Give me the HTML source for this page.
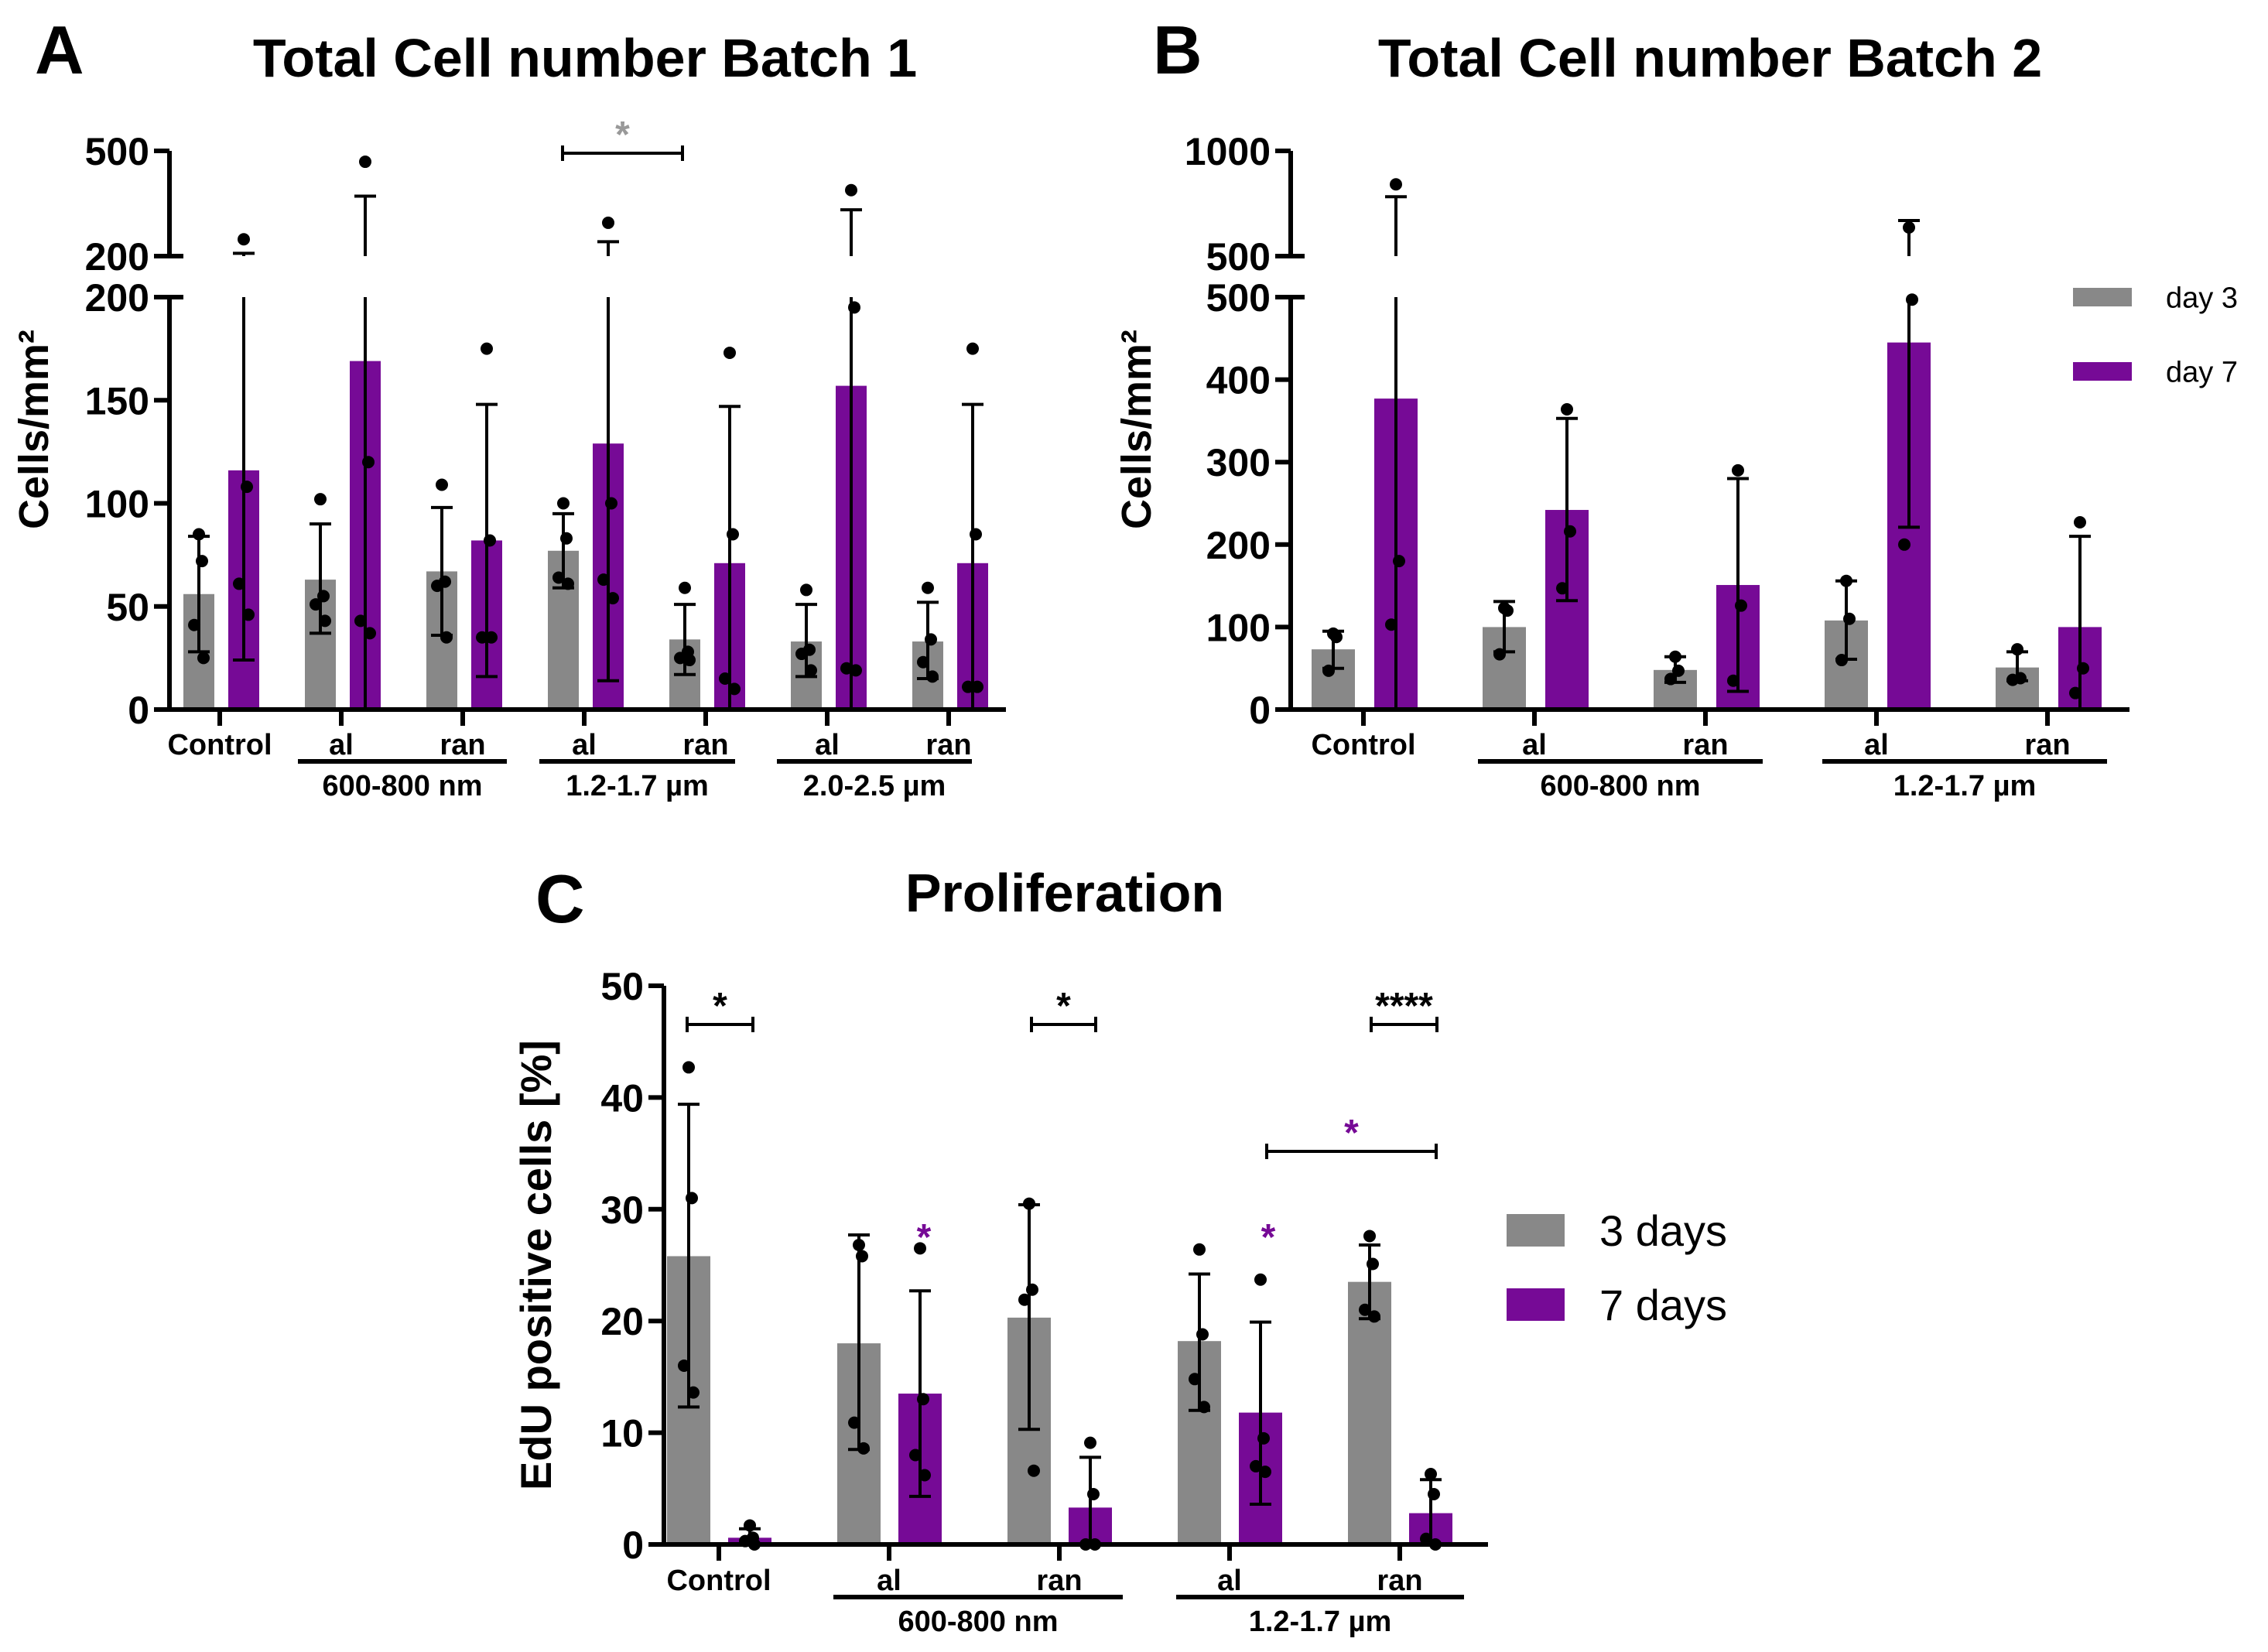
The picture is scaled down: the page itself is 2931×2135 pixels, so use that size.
<!DOCTYPE html>
<html><head><meta charset="utf-8">
<style>
html,body{margin:0;padding:0;background:#fff;}
svg{display:block;font-family:"Liberation Sans",sans-serif;}
</style></head>
<body>
<svg id="fig" width="2931" height="2135" viewBox="0 0 2931 2135" xmlns="http://www.w3.org/2000/svg">
<rect width="2931" height="2135" fill="#fff"/>
<g id="root"></g>
</svg>
<script>
// ---------- Panel A data ----------
const aCats = ["Control","al","ran","al","ran","al","ran"];
const aGrayMean = [56,63,67,77,34,33,33];
const aGrayLo = [28,37,36,59,17,16,15];
const aGrayHi = [84,90,98,95,51,51,52];
const aPurpMean = [116,169,82,129,71,157,71];
const aPurpLo = [24,0,16,14,0,0,0];
const aPurpHi = [208,371,148,241,147,332,148];
const aGrayPts = [[85,72,41,25],[102,55,51,43],[109,62,60,35],[100,83,64,61],[59,28,25,24],[58,29,27,19],[59,34,23,16]];
const aPurpPts = [[248,108,61,46],[469,120,43,37],[175,82,35,35],[295,100,63,54],[173,85,15,10],[388,195,20,19],[175,85,11,11]];
const aLowTicks = [0,50,100,150,200];
const aUpTicks = [200,500];
// ---------- Panel B data ----------
const bCats = ["Control","al","ran","al","ran"];
const bGrayMean = [73,100,48,108,51];
const bGrayLo = [50,70,33,61,35];
const bGrayHi = [95,131,64,156,70];
const bPurpMean = [377,242,151,445,100];
const bPurpLo = [0,132,22,221,0];
const bPurpHi = [782,353,280,669,210];
const bGrayPts = [[92,88,47],[123,120,67],[64,47,37],[156,110,60],[73,38,36]];
const bPurpPts = [[841,180,103],[364,216,147],[290,126,35],[636,497,200],[227,50,20]];
const bLowTicks = [0,100,200,300,400,500];
const bUpTicks = [500,1000];
// ---------- Panel C data ----------
const cCats = ["Control","al","ran","al","ran"];
const cGrayMean = [25.8,18,20.3,18.2,23.5];
const cGrayLo = [12.3,8.5,10.3,12,20.2];
const cGrayHi = [39.4,27.7,30.4,24.2,26.8];
const cPurpMean = [0.6,13.5,3.3,11.8,2.8];
const cPurpLo = [0,4.3,0,3.6,0];
const cPurpHi = [1.4,22.7,7.8,19.9,5.8];
const cGrayPts = [[42.7,31,16,13.6],[26.8,25.8,10.9,8.6],[30.5,22.8,21.9,6.6],[26.4,18.8,14.8,12.3],[27.6,25.1,21,20.4]];
const cPurpPts = [[1.7,0.6,0.3,0],[26.5,13,8,6.2],[9.1,4.5,0,0],[23.7,9.5,7,6.5],[6.3,4.5,0.5,0]];
const cTicks = [0,10,20,30,40,50];

const GRAY="#888888", PURP="#760a96";
const NS="http://www.w3.org/2000/svg";
const root=document.getElementById('root');
function el(tag,attrs,parent,text){
  const e=document.createElementNS(NS,tag);
  for(const k in attrs) e.setAttribute(k,attrs[k]);
  if(text!==undefined) e.textContent=text;
  (parent||root).appendChild(e);
  return e;
}
function line(x1,y1,x2,y2,w,parent,col){
  return el('line',{x1,y1,x2,y2,stroke:col||'#000','stroke-width':w},parent);
}
const TFS=50;
function drawPanel(p){
  const g=el('g',{});
  
  
  const y=v=>{
    if(p.brk===undefined || v<=p.brk) return p.y0-(v/p.lowMax)*(p.y0-p.yLowTop);
    return p.yUpBot-(v-p.upMin)/(p.upMax-p.upMin)*(p.yUpBot-p.yUpTop);
  };
  const xc=i=>p.x0c+i*p.step;
  p.cats.forEach((c,i)=>{
    [[p.gm,p.glo,p.ghi,p.gpts,GRAY,p.offG,'day3'],[p.pm,p.plo,p.phi,p.ppts,PURP,p.offP,'day7']].forEach(s=>{
      const [m,lo,hi,pts,col,off,tag]=s;
      const cx=xc(i)+off;
      const r=el('rect',{x:cx-p.bw/2,y:y(m[i]),width:p.bw,height:p.y0-y(m[i]),fill:col},g);
      
      
      const lov=Math.max(0,lo[i]);
      const hv=hi[i];
      if(p.brk!==undefined && hv>p.brk){
        line(cx,y(lov),cx,p.yLowTop,4,g);
        line(cx,p.yUpBot,cx,y(hv),4,g);
      } else line(cx,y(lov),cx,y(hv),4,g);
      line(cx-14,y(hv),cx+14,y(hv),4,g);
      if(lo[i]>0) line(cx-14,y(lov),cx+14,y(lov),4,g);
      pts[i].forEach((v,j)=>{
        const dx=(j%2===0?-1:1)*(j<2?0:6);
        const d=el('circle',{cx:cx+dx+(j===1?4:0),cy:y(v),r:8,fill:'#000'},g);
        
        
      });
    });
  });
  const ax=el('g',{},g);
  
  
  if(p.brk!==undefined){
    line(p.ax,p.y0+3,p.ax,p.yLowTop,6,ax);
    line(p.ax,p.yUpBot,p.ax,p.yUpTop,6,ax);
    p.lowTicks.forEach(t=>{
      line(p.ax-20,y(t),p.ax+(t===p.lowMax?18:0),y(t),6,ax);
      el('text',{x:p.ax-26,y:y(t)+18,'text-anchor':'end','font-size':TFS,'font-weight':'bold'},ax,String(t));
    });
    p.upTicks.forEach((t,k)=>{
      const yy=k===0?p.yUpBot:p.yUpTop;
      line(p.ax-20,yy,p.ax+(k===0?18:0),yy,6,ax);
      el('text',{x:p.ax-26,y:yy+18,'text-anchor':'end','font-size':TFS,'font-weight':'bold'},ax,String(t));
    });
  } else {
    line(p.ax,p.y0+3,p.ax,p.yTop,6,ax);
    p.lowTicks.forEach(t=>{
      line(p.ax-20,y(t),p.ax,y(t),6,ax);
      el('text',{x:p.ax-26,y:y(t)+18,'text-anchor':'end','font-size':TFS,'font-weight':'bold'},ax,String(t));
    });
  }
  const xa=el('g',{},g);
  
  
  line(p.ax-3,p.y0,p.xEnd,p.y0,6,xa);
  p.cats.forEach((c,i)=>{
    line(xc(i),p.y0,xc(i),p.y0+21,6,xa);
    const t=el('text',{x:xc(i),y:p.labY,'text-anchor':'middle','font-size':38,'font-weight':'bold'},xa,c);
    
    
  });
  p.groups.forEach(gr=>{
    line(gr[0],p.labY+9,gr[1],p.labY+9,6,xa);
    const t=el('text',{x:(gr[0]+gr[1])/2,y:p.labY+53,'text-anchor':'middle','font-size':38,'font-weight':'bold'},xa,gr[2]);
    
    
  });
  const yt=el('text',{x:0,y:0,transform:`translate(${p.ytx},${p.yty}) rotate(-90)`,'text-anchor':'middle','font-size':p.ytSize,'font-weight':'bold'},g,p.ytitle);
  
  
  return {g,y,xc};
}

const A=drawPanel({name:'panel-a-chart',cats:aCats,gm:aGrayMean,glo:aGrayLo,ghi:aGrayHi,pm:aPurpMean,plo:aPurpLo,phi:aPurpHi,gpts:aGrayPts,ppts:aPurpPts,
  lowTicks:aLowTicks,upTicks:aUpTicks,brk:200,lowMax:200,upMin:200,upMax:500,
  y0:917,yLowTop:384,yUpBot:331,yUpTop:195,ax:219,xEnd:1300,x0c:284,step:157,offG:-27,offP:31,bw:40,
  labY:975,groups:[[385,655,'600-800 nm'],[697,950,'1.2-1.7 µm'],[1004,1256,'2.0-2.5 µm']],
  ytitle:'Cells/mm²',ytx:62,yty:555,ytSize:54});
const B=drawPanel({name:'panel-b-chart',cats:bCats,gm:bGrayMean,glo:bGrayLo,ghi:bGrayHi,pm:bPurpMean,plo:bPurpLo,phi:bPurpHi,gpts:bGrayPts,ppts:bPurpPts,
  lowTicks:bLowTicks,upTicks:bUpTicks,brk:500,lowMax:500,upMin:500,upMax:1000,
  y0:917,yLowTop:384,yUpBot:331,yUpTop:195,ax:1668,xEnd:2752,x0c:1762,step:221,offG:-39,offP:42,bw:56,
  labY:975,groups:[[1910,2278,'600-800 nm'],[2355,2723,'1.2-1.7 µm']],
  ytitle:'Cells/mm²',ytx:1487,yty:555,ytSize:54});
const C=drawPanel({name:'panel-c-chart',cats:cCats,gm:cGrayMean,glo:cGrayLo,ghi:cGrayHi,pm:cPurpMean,plo:cPurpLo,phi:cPurpHi,gpts:cGrayPts,ppts:cPurpPts,
  lowTicks:cTicks,lowMax:50,y0:1996,yLowTop:1274,yTop:1274,ax:858,xEnd:1923,x0c:929,step:220,offG:-39,offP:40,bw:56,
  labY:2055,groups:[[1077,1451,'600-800 nm'],[1520,1892,'1.2-1.7 µm']],
  ytitle:'EdU positive cells [%]',ytx:712,yty:1635,ytSize:56});

function bracket(x1,x2,yy,label,col,size,name){
  const g=el('g',{});
  
  
  line(x1,yy,x2,yy,4,g);
  line(x1,yy-10,x1,yy+10,4,g);
  line(x2,yy-10,x2,yy+10,4,g);
  el('text',{x:(x1+x2)/2,y:yy-8,'text-anchor':'middle','font-size':size,'font-weight':'bold',fill:col},g,label);
}
bracket(727,882,198,'*','#999',48,'significance-a');
bracket(888,973,1324,'*','#000',48,'significance-c-control');
bracket(1333,1416,1324,'*','#000',48,'significance-c-ran1');
bracket(1772,1857,1324,'****','#000',48,'significance-c-ran2');
bracket(1637,1856,1488,'*',PURP,48,'significance-c-purple');
[1194,1639].forEach((x,k)=>{
  const t=el('text',{x:x,y:1615,'text-anchor':'middle','font-size':48,'font-weight':'bold',fill:PURP},root,'*');
  
  
});

function txt(x,y2,s,size,name,anchor){
  const t=el('text',{x:x,y:y2,'text-anchor':anchor||'middle','font-size':size,'font-weight':'bold'},root,s);
  
  
}
txt(45,95,'A',88,'panel-letter-a','start');
txt(1490,95,'B',88,'panel-letter-b','start');
txt(692,1192,'C',88,'panel-letter-c','start');
txt(756,99,'Total Cell number Batch 1',70,'title-a');
txt(2210,99,'Total Cell number Batch 2',70,'title-b');
txt(1376,1178,'Proliferation',70,'title-c');

function legend(x,y2,w,h,col,label,fs,tx,name){
  const g=el('g',{});
  
  
  el('rect',{x:x,y:y2,width:w,height:h,fill:col},g);
  el('text',{x:tx,y:y2+h/2+fs*0.36,'font-size':fs},g,label);
}
legend(2679,372,76,24,GRAY,'day 3',38,2799,'legend-day3');
legend(2679,468,76,24,PURP,'day 7',38,2799,'legend-day7');
legend(1947,1569,75,42,GRAY,'3 days',56,2067,'legend-3days');
legend(1947,1665,75,42,PURP,'7 days',56,2067,'legend-7days');
</script>
</body></html>
